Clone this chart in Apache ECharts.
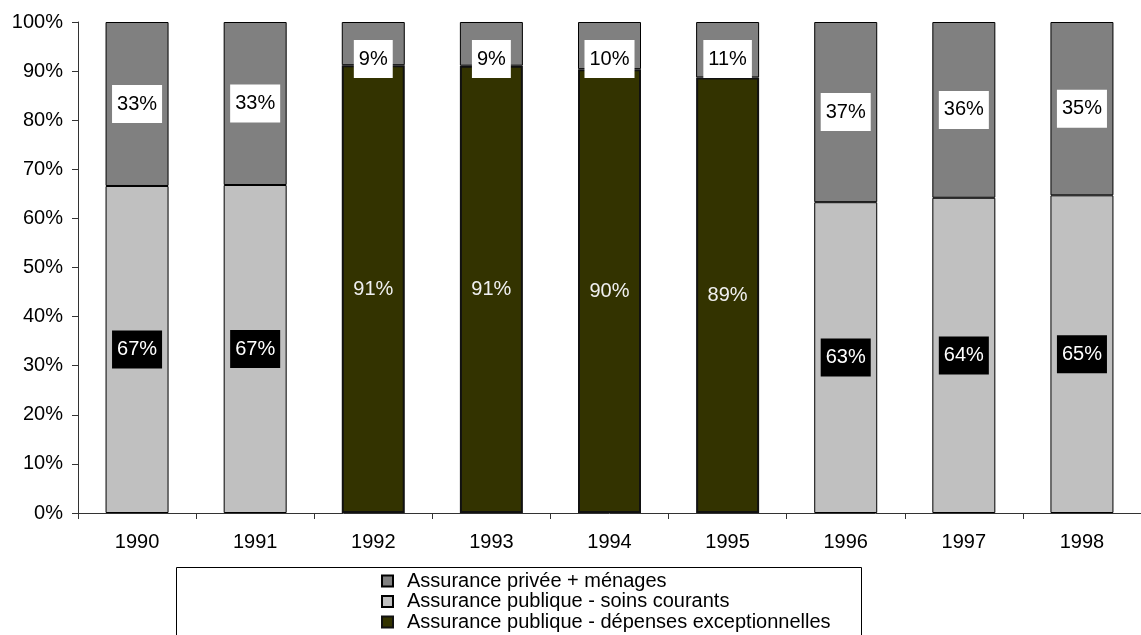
<!DOCTYPE html>
<html>
<head>
<meta charset="utf-8">
<script src="https://cdn.jsdelivr.net/npm/echarts@6/dist/echarts.min.js"></script>
<style>
  html, body { margin: 0; padding: 0; background: #fff; }
  #chart { width: 1141px; height: 635px; }
</style>
</head>
<body>
<div id="chart"></div>
<script>
// Years on the category axis
const years = ['1990', '1991', '1992', '1993', '1994', '1995', '1996', '1997', '1998'];

// Shares of health spending (percent of total)
const publicCurrent = [66.6, 66.8, null, null, null, null, 63.3, 64.2, 64.7];
const publicExceptional = [null, null, 91.2, 91.1, 90.4, 88.7, null, null, null];
const privateHouseholds = [33.4, 33.2, 8.8, 8.9, 9.6, 11.3, 36.7, 35.8, 35.3];

// Tick labels of the value axis
const yTicks = ['0%', '10%', '20%', '30%', '40%', '50%', '60%', '70%', '80%', '90%', '100%'];

const seriesNames = [
  'Assurance privée + ménages',
  'Assurance publique - soins courants',
  'Assurance publique - dépenses exceptionnelles'
];

const FONT = 'Liberation Sans, Arial, sans-serif';
const FS = 20;
const pct = p => Math.round(p.value) + '%';

// Thin top segments: hang the label from the top of the bar instead of centring it
const privateData = privateHouseholds.map(v => (
  v < 15 ? { value: v, label: { position: 'insideTop', distance: 18 } } : v
));

const chart = echarts.init(document.getElementById('chart'));
chart.setOption({
  animation: false,
  textStyle: { fontFamily: FONT },
  grid: { left: 78, right: -8, top: 22, bottom: 122 },
  xAxis: {
    type: 'category',
    data: years,
    boundaryGap: true,
    axisLine: { lineStyle: { color: '#333', width: 1 } },
    axisTick: { show: true, length: 6, lineStyle: { color: '#333' } },
    axisLabel: { color: '#000', fontSize: FS, fontFamily: FONT, margin: 19 }
  },
  yAxis: {
    type: 'value',
    min: 0,
    max: 100,
    interval: 10,
    splitLine: { show: false },
    axisLine: { show: true, lineStyle: { color: '#333', width: 1 } },
    axisTick: { show: true, length: 6, lineStyle: { color: '#333' } },
    axisLabel: {
      color: '#000', fontSize: FS, fontFamily: FONT, margin: 15,
      formatter: v => yTicks[Math.round(v / 10)]
    }
  },
  // Frame around the legend, running off the bottom edge
  graphic: [{
    type: 'rect',
    shape: { x: 176.5, y: 567.5, width: 685, height: 100 },
    style: { fill: 'none', stroke: '#000', lineWidth: 1 }
  }],
  legend: {
    orient: 'vertical',
    left: 381,
    top: 571,
    data: seriesNames,
    icon: 'rect',
    itemWidth: 11,
    itemHeight: 11,
    itemGap: 0.5,
    padding: 0,
    textStyle: { color: '#000', fontSize: FS, fontFamily: FONT, lineHeight: 20, padding: [0, 0, 0, 9] }
  },
  series: [
    {
      name: seriesNames[1],
      type: 'bar',
      stack: 'total',
      barWidth: 63,
      data: publicCurrent,
      itemStyle: { color: '#c0c0c0', borderColor: '#000', borderWidth: 1 },
      label: {
        show: true, position: 'inside', formatter: pct,
        color: '#fff', backgroundColor: '#000',
        fontSize: FS, fontFamily: FONT, lineHeight: 20, padding: [9, 5]
      }
    },
    {
      name: seriesNames[2],
      type: 'bar',
      stack: 'total',
      barWidth: 63,
      data: publicExceptional,
      itemStyle: { color: '#333300', borderColor: '#111', borderWidth: 2 },
      label: {
        show: true, position: 'inside', formatter: pct,
        color: '#f0f0f0', fontSize: FS, fontFamily: FONT
      }
    },
    {
      name: seriesNames[0],
      type: 'bar',
      stack: 'total',
      barWidth: 63,
      data: privateData,
      itemStyle: { color: '#808080', borderColor: '#000', borderWidth: 1 },
      label: {
        show: true, position: 'inside', formatter: pct,
        color: '#000', backgroundColor: '#fff',
        fontSize: FS, fontFamily: FONT, lineHeight: 20, padding: [9, 5]
      }
    }
  ]
});
</script>
</body>
</html>
